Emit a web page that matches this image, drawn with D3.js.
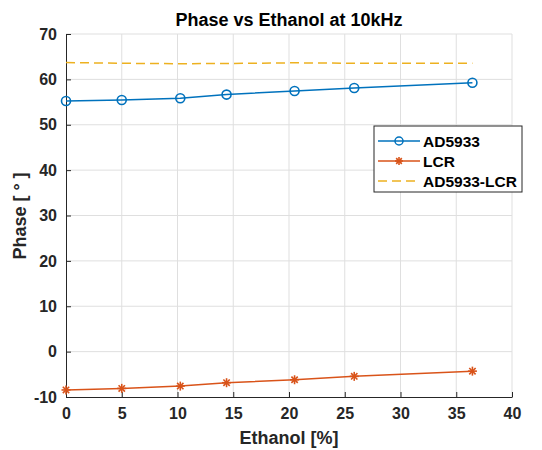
<!DOCTYPE html>
<html>
<head>
<meta charset="utf-8">
<script src="https://cdn.jsdelivr.net/npm/d3@7"></script>
<style>
  body { margin: 0; background: #fff; }
  svg { display: block; font-family: "Liberation Sans", Arial, sans-serif; }
</style>
</head>
<body>
<svg id="chart" width="542" height="450"></svg>
<script>
// ethanol concentration [%]
const ethanol = [0, 5, 10.25, 14.4, 20.5, 25.85, 36.45];
const ad5933 = [55.25, 55.45, 55.85, 56.65, 57.45, 58.1, 59.25];
const lcr = [-8.45, -8.1, -7.6, -6.85, -6.2, -5.45, -4.3];
const diff = [63.7, 63.55, 63.45, 63.5, 63.65, 63.55, 63.55];
const xTicks = [0, 5, 10, 15, 20, 25, 30, 35, 40];
const yTicks = [-10, 0, 10, 20, 30, 40, 50, 60, 70];

const svg = d3.select("#chart");
const m = { left: 66, right: 512, top: 34, bottom: 397 };

const x = d3.scaleLinear().domain([0, 40]).range([m.left, m.right]);
const y = d3.scaleLinear().domain([-10, 70]).range([m.bottom, m.top]);

const axisColor = "#262626";

// grid
const grid = svg.append("g").attr("stroke", "#dfdfdf").attr("stroke-width", 1);
xTicks.slice(1).forEach(t => {
  grid.append("line").attr("x1", x(t)).attr("x2", x(t)).attr("y1", m.top).attr("y2", m.bottom);
});
yTicks.slice(1).forEach(t => {
  grid.append("line").attr("x1", m.left).attr("x2", m.right).attr("y1", y(t)).attr("y2", y(t));
});

// axes
const xAxis = svg.append("g")
  .attr("transform", `translate(0,${m.bottom})`)
  .call(d3.axisBottom(x).tickValues(xTicks).tickFormat(d => String(d))
    .tickSizeInner(-5).tickSizeOuter(0).tickPadding(11));
const yAxis = svg.append("g")
  .attr("transform", `translate(${m.left},0)`)
  .call(d3.axisLeft(y).tickValues(yTicks).tickFormat(d => String(d))
    .tickSizeInner(-5).tickSizeOuter(0).tickPadding(9));

[xAxis, yAxis].forEach(a => {
  a.select(".domain").attr("stroke", axisColor).attr("stroke-width", 1);
  a.selectAll(".tick line").attr("stroke", axisColor);
  a.selectAll(".tick text")
    .attr("fill", axisColor)
    .attr("font-size", 16)
    .attr("font-weight", "bold")
    .attr("font-family", "Liberation Sans, Arial, sans-serif");
});

const lineGen = ys => d3.line().x((d, i) => x(ethanol[i])).y(d => y(d))(ys);

// AD5933 - LCR
svg.append("path")
  .attr("d", lineGen(diff))
  .attr("fill", "none")
  .attr("stroke", "#EDB120")
  .attr("stroke-width", 1.5)
  .attr("stroke-dasharray", "9,5");

// AD5933
svg.append("path")
  .attr("d", lineGen(ad5933))
  .attr("fill", "none")
  .attr("stroke", "#0072BD")
  .attr("stroke-width", 1.5);
svg.append("g").selectAll("circle")
  .data(ad5933)
  .enter()
  .append("circle")
  .attr("cx", (d, i) => x(ethanol[i]))
  .attr("cy", d => y(d))
  .attr("r", 4.5)
  .attr("fill", "none")
  .attr("stroke", "#0072BD")
  .attr("stroke-width", 1.6);

// LCR
svg.append("path")
  .attr("d", lineGen(lcr))
  .attr("fill", "none")
  .attr("stroke", "#D95319")
  .attr("stroke-width", 1.5);

function star(g, cx, cy, r) {
  for (let k = 0; k < 4; k++) {
    const a = k * Math.PI / 4;
    g.append("line")
      .attr("x1", cx - r * Math.cos(a)).attr("y1", cy - r * Math.sin(a))
      .attr("x2", cx + r * Math.cos(a)).attr("y2", cy + r * Math.sin(a))
      .attr("stroke", "#D95319")
      .attr("stroke-width", 1.6);
  }
}
const stars = svg.append("g");
lcr.forEach((d, i) => star(stars, x(ethanol[i]), y(d), 4.5));

// title and labels
svg.append("text")
  .attr("x", (m.left + m.right) / 2)
  .attr("y", 26)
  .attr("text-anchor", "middle")
  .attr("font-size", 18)
  .attr("font-weight", "bold")
  .attr("fill", "#000")
  .text("Phase vs Ethanol at 10kHz");

svg.append("text")
  .attr("x", (m.left + m.right) / 2)
  .attr("y", 444)
  .attr("text-anchor", "middle")
  .attr("font-size", 18)
  .attr("font-weight", "bold")
  .attr("fill", axisColor)
  .text("Ethanol [%]");

svg.append("text")
  .attr("transform", `translate(26,216) rotate(-90)`)
  .attr("text-anchor", "middle")
  .attr("font-size", 18)
  .attr("font-weight", "bold")
  .attr("fill", axisColor)
  .text("Phase [ ° ]");

// legend
const legend = svg.append("g");
legend.append("rect")
  .attr("x", 374).attr("y", 126)
  .attr("width", 148).attr("height", 66)
  .attr("fill", "#fff")
  .attr("stroke", axisColor)
  .attr("stroke-width", 1);

const entries = [
  { name: "AD5933", color: "#0072BD", marker: "circle", dash: null },
  { name: "LCR", color: "#D95319", marker: "star", dash: null },
  { name: "AD5933-LCR", color: "#EDB120", marker: null, dash: "9,5" }
];
entries.forEach((e, i) => {
  const ly = 141 + i * 20;
  legend.append("line")
    .attr("x1", 378).attr("x2", 420)
    .attr("y1", ly).attr("y2", ly)
    .attr("stroke", e.color)
    .attr("stroke-width", 1.5)
    .attr("stroke-dasharray", e.dash);
  if (e.marker === "circle") {
    legend.append("circle")
      .attr("cx", 399).attr("cy", ly).attr("r", 4)
      .attr("fill", "none").attr("stroke", e.color).attr("stroke-width", 1.5);
  } else if (e.marker === "star") {
    star(legend, 399, ly, 4);
  }
  legend.append("text")
    .attr("x", 423).attr("y", ly + 5.5)
    .attr("font-size", 15.5)
    .attr("font-weight", "bold")
    .attr("fill", "#000")
    .text(e.name);
});
</script>
</body>
</html>
